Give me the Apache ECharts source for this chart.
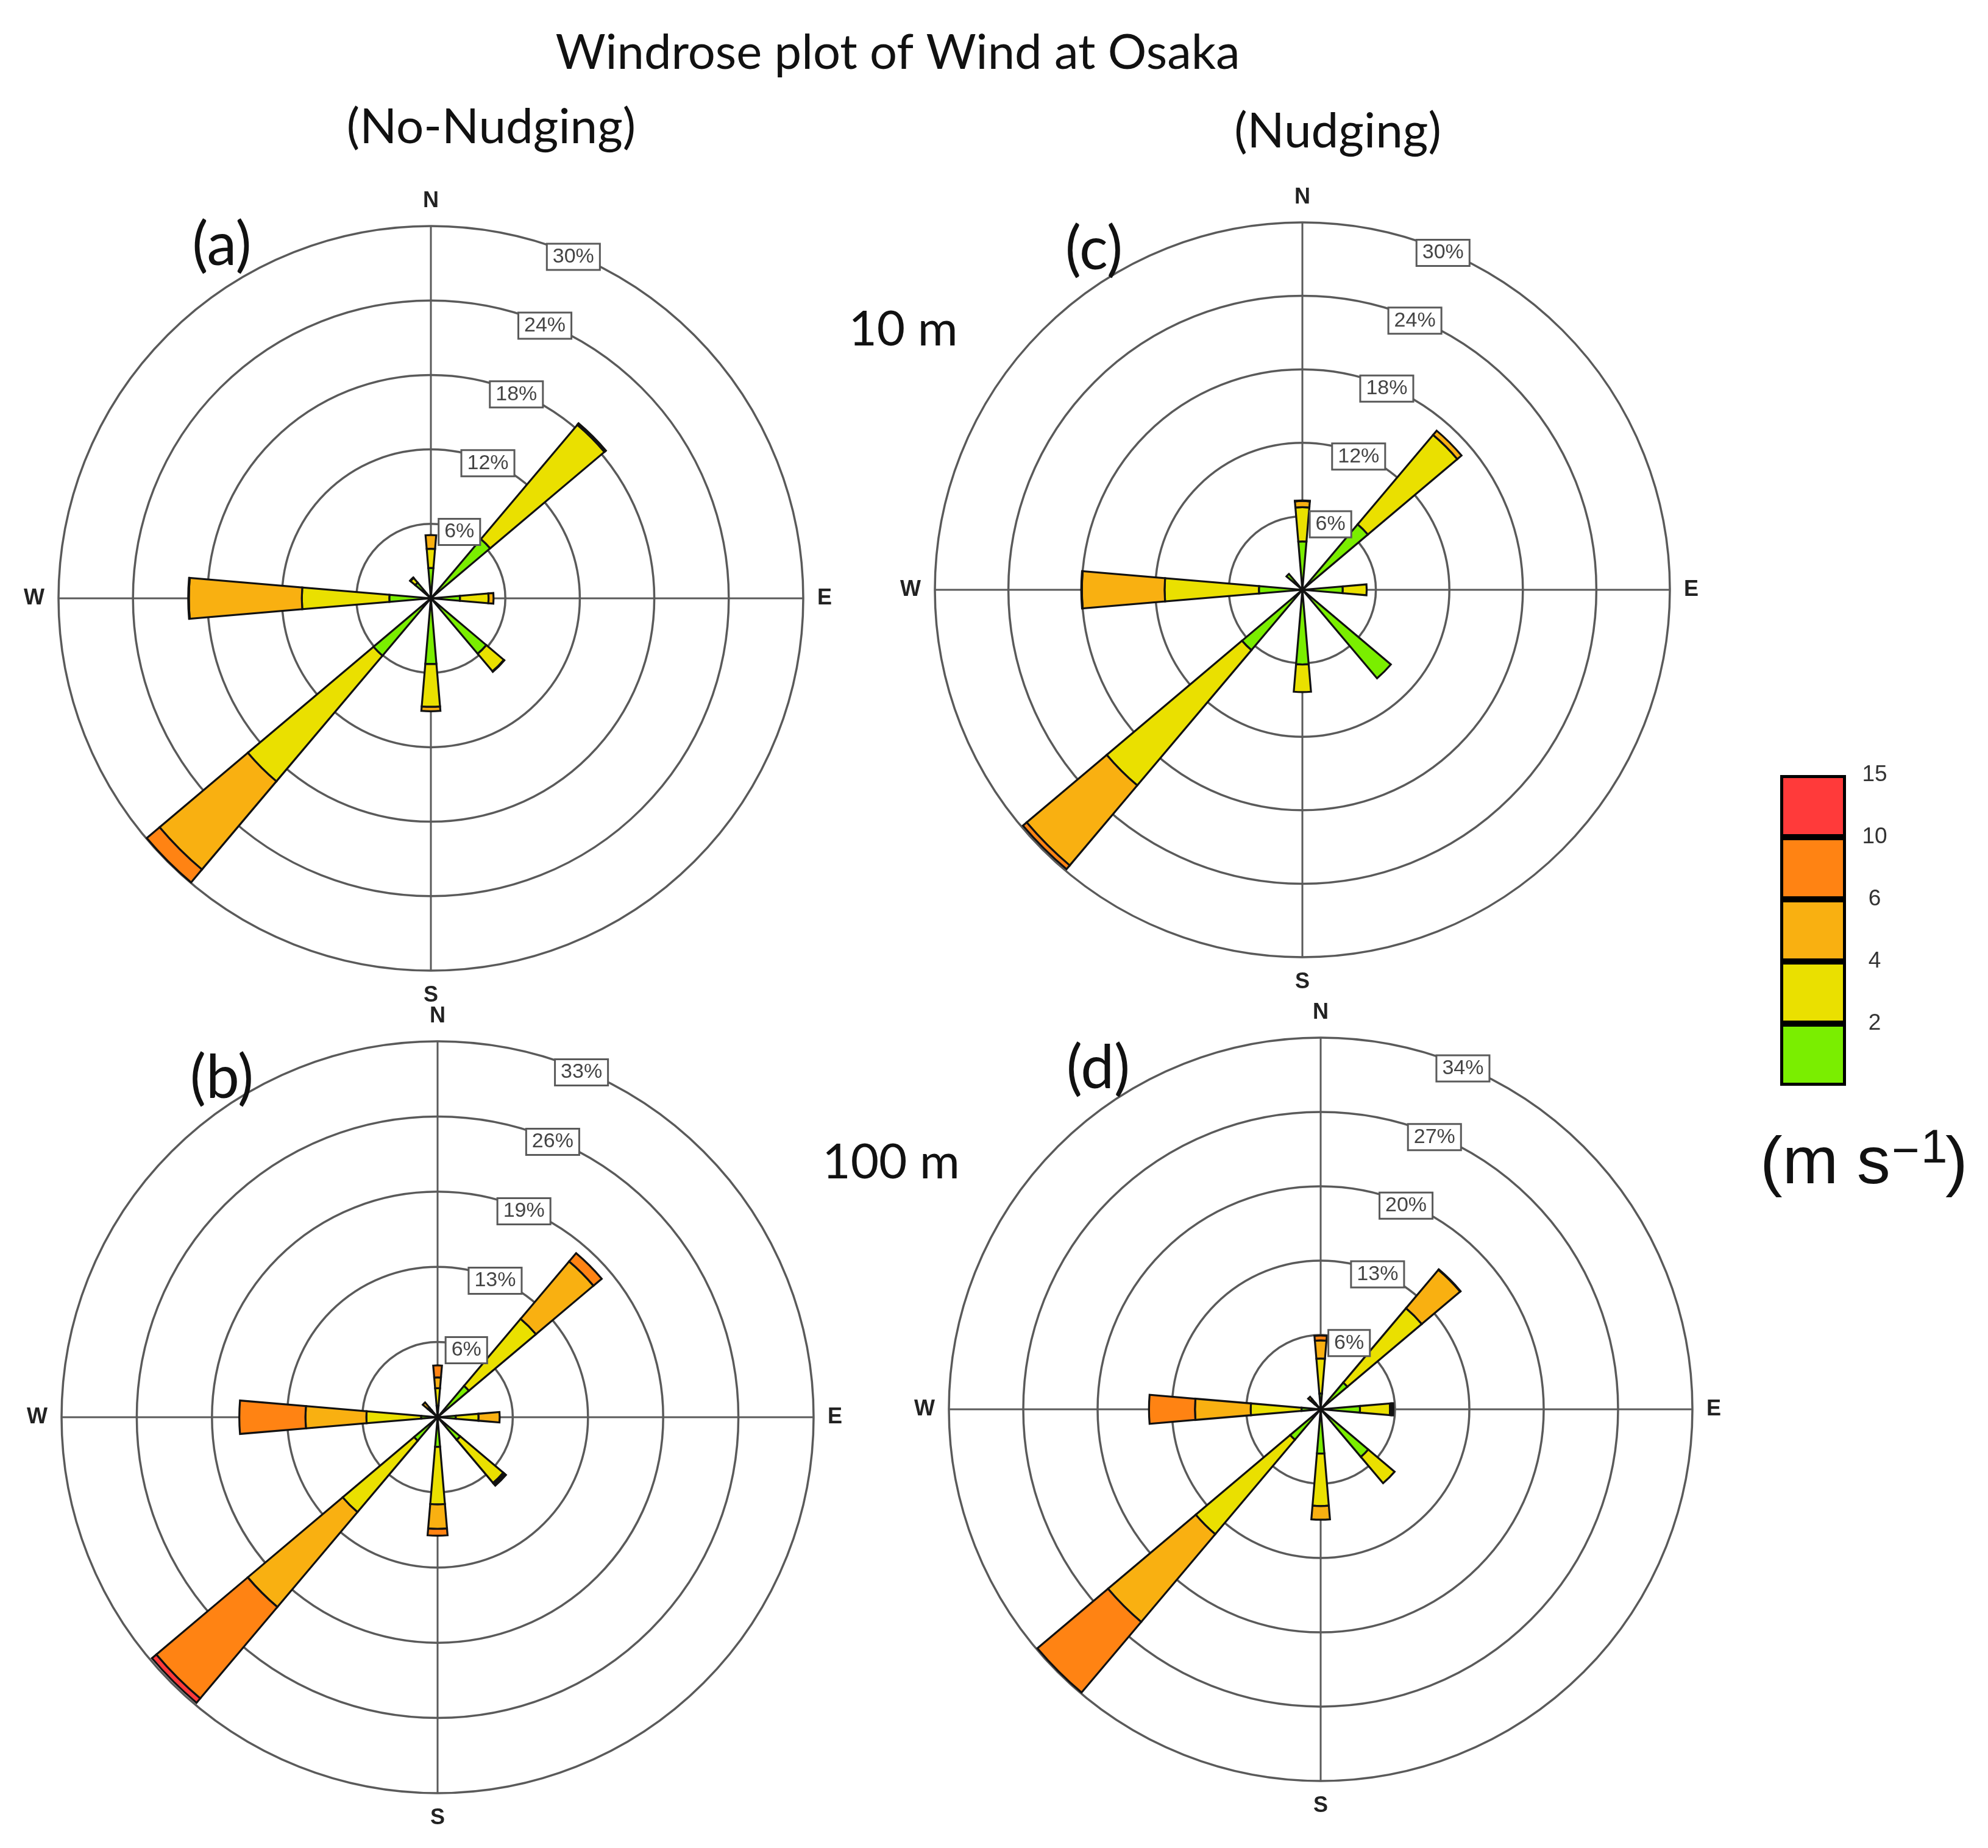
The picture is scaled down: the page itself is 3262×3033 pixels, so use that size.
<!DOCTYPE html>
<html>
<head>
<meta charset="utf-8">
<style>
html, body { margin: 0; padding: 0; background: #fff; }
#main { width: 3262px; height: 3033px; }
</style>
<script src="https://cdn.jsdelivr.net/npm/echarts@6/dist/echarts.min.js"></script>
</head>
<body>
<div id="main"></div>
<script>
// wind directions, clockwise from north
var directions = ['N', 'NE', 'E', 'SE', 'S', 'SW', 'W', 'NW'];
var compassLabels = ['N', 'E', 'S', 'W'];

// speed bins
var binNames = ['<2', '2-4', '4-6', '6-10', '10-15'];
var binColors = ['#7AEE00', '#EAE000', '#F9B011', '#FF8313', '#FF3A3A'];
var barTicks = ['', '2', '4', '6', '10', '15'];
var barCells = [1, 1, 1, 1, 1];

// (a) No-Nudging 10 m, frequency in % per bin
var aGreen  = [2.45, 6.25, 2.35, 5.85, 5.3, 6.05, 3.35, 1.65];
var aYellow = [1.55, 12.05, 2.3, 1.85, 3.45, 13.25, 7.05, 0.5];
var aAmber  = [1.1, 0.1, 0.4, 0.05, 0.35, 9.3, 9.1, 0.05];
var aOrange = [null, 0.05, null, null, null, 1.35, 0.05, null];
var aRed    = [null, null, null, null, null, null, null, null];
var aRings  = ['6%', '12%', '18%', '24%', '30%'];

// (b) No-Nudging 100 m
var bGreen  = [1.0, 3.6, 1.6, 2.6, 2.6, 2.7, 1.45, 0.8];
var bYellow = [1.55, 7.7, 2.0, 4.95, 5.05, 8.2, 4.8, 0.3];
var bAmber  = [0.95, 6.6, 1.85, 0.15, 2.15, 10.9, 5.35, 0.6];
var bOrange = [1.05, 0.95, null, 0.15, 0.6, 10.5, 5.8, null];
var bRed    = [null, null, null, null, null, 0.5, null, null];
var bRings  = ['6%', '13%', '19%', '26%', '33%'];

// (c) Nudging 10 m
var cGreen  = [3.95, 7.0, 3.3, 9.45, 6.1, 6.45, 3.55, 1.7];
var cYellow = [2.8, 9.55, 1.95, null, 2.25, 14.45, 7.7, null];
var cAmber  = [0.5, 0.45, null, null, null, 8.55, 6.75, null];
var cOrange = [0.05, null, null, null, null, 0.4, 0.05, null];
var cRed    = [null, null, null, null, null, null, null, null];
var cRings  = ['6%', '12%', '18%', '24%', '30%'];

// (d) Nudging 100 m
var dGreen  = [1.45, 3.2, 3.6, 5.7, 4.05, 3.65, 1.75, 0.7];
var dYellow = [3.2, 8.9, 2.75, 3.15, 4.8, 11.3, 4.65, 0.5];
var dAmber  = [1.65, 4.6, 0.15, null, 1.25, 10.5, 5.1, 0.3];
var dOrange = [0.45, 0.05, 0.15, null, null, 8.45, 4.2, null];
var dRed    = [null, null, null, null, null, null, null, null];
var dRings  = ['6%', '13%', '20%', '27%', '34%'];

var panels = [
   { center: [707, 982],  r: 611, max: 30, rings: aRings, bins: [aGreen, aYellow, aAmber, aOrange, aRed] },
   { center: [718, 2326], r: 617, max: 33, rings: bRings, bins: [bGreen, bYellow, bAmber, bOrange, bRed] },
   { center: [2137, 968], r: 603, max: 30, rings: cRings, bins: [cGreen, cYellow, cAmber, cOrange, cRed] },
   { center: [2167, 2313], r: 610, max: 34, rings: dRings, bins: [dGreen, dYellow, dAmber, dOrange, dRed] }
];

var sansFont = 'Liberation Sans';
var titleFont = 'Lato';
var lineGrey = '#5a5a5a';

var polar = [], angleAxis = [], radiusAxis = [], series = [];

panels.forEach(function (p, i) {
   var gridPolar = i * 3, barPolar = i * 3 + 1, labelPolar = i * 3 + 2;
   var step = p.max / 5;

   // polar for the rings, spokes and compass letters
   polar.push({ center: p.center, radius: p.r });
   angleAxis.push({
      polarIndex: gridPolar,
      type: 'value',
      min: 0,
      max: 360,
      interval: 90,
      startAngle: 90,
      axisLine: { show: false },
      axisTick: { show: false },
      axisLabel: {
         show: true,
         showMaxLabel: false,
         margin: 23,
         color: '#222',
         fontFamily: sansFont,
         fontWeight: 'bold',
         fontSize: 36,
         formatter: function (val) { return compassLabels[val / 90]; }
      },
      splitLine: { show: true, lineStyle: { color: lineGrey, width: 3 } }
   });
   radiusAxis.push({
      polarIndex: gridPolar,
      type: 'value',
      min: 0,
      max: p.max,
      interval: step,
      axisLine: { show: false },
      axisTick: { show: false },
      axisLabel: { show: false },
      splitLine: { show: true, lineStyle: { color: lineGrey, width: 3.5 } }
   });

   // polar for the bars
   polar.push({ center: p.center, radius: p.r });
   angleAxis.push({
      polarIndex: barPolar,
      type: 'category',
      data: directions,
      boundaryGap: false,
      startAngle: 90,
      axisLine: { show: false },
      axisTick: { show: false },
      axisLabel: { show: false },
      splitLine: { show: false }
   });
   radiusAxis.push({
      polarIndex: barPolar,
      type: 'value',
      min: 0,
      max: p.max,
      axisLine: { show: false },
      axisTick: { show: false },
      axisLabel: { show: false },
      splitLine: { show: false }
   });

   // third polar only to carry the boxed % labels along the 67.5 degree line
   polar.push({ center: [p.center[0], p.center[1] + 4], radius: p.r });
   angleAxis.push({
      polarIndex: labelPolar,
      type: 'value',
      min: 0,
      max: 360,
      startAngle: 67.5,
      axisLine: { show: false },
      axisTick: { show: false },
      axisLabel: { show: false },
      splitLine: { show: false }
   });
   radiusAxis.push({
      polarIndex: labelPolar,
      type: 'value',
      min: 0,
      max: p.max,
      interval: step,
      z: 20,
      axisLine: { show: false },
      axisTick: { show: false },
      splitLine: { show: false },
      axisLabel: {
         show: true,
         showMinLabel: false,
         margin: 0,
         rotate: 0,
         align: 'center',
         verticalAlign: 'middle',
         color: '#444',
         fontFamily: sansFont,
         fontSize: 34,
         backgroundColor: '#fff',
         borderColor: lineGrey,
         borderWidth: 3,
         padding: [3, 8],
         formatter: function (val, idx) { return p.rings[idx - 1]; }
      }
   });

   p.bins.forEach(function (values, b) {
      series.push({
         name: binNames[b],
         type: 'bar',
         coordinateSystem: 'polar',
         polarIndex: barPolar,
         stack: 'panel' + i,
         barWidth: '21.5%',
         silent: true,
         itemStyle: { color: binColors[b], borderColor: '#111', borderWidth: 3.2 },
         data: values
      });
   });
});

// colour bar
barCells.forEach(function (v, b) {
   series.push({
      name: binNames[b],
      type: 'bar',
      stack: 'colorbar',
      barWidth: '100%',
      silent: true,
      itemStyle: { color: binColors[b], borderColor: '#000', borderWidth: 5 },
      data: [v]
   });
});

function label(text, x, y, size, family, align) {
   return {
      text: text,
      left: x,
      top: y,
      padding: 0,
      textAlign: align || 'center',
      textVerticalAlign: 'middle',
      textStyle: { color: '#111', fontFamily: family, fontWeight: 'normal', fontSize: size }
   };
}

var myChart = echarts.init(document.getElementById('main'));
myChart.setOption({
   animation: false,
   backgroundColor: '#fff',
   title: [
      label('Windrose plot of Wind at Osaka', 1473, 87, 79.5, titleFont),
      label('(No-Nudging)', 806, 209, 80, titleFont),
      label('(Nudging)', 2195, 216, 80, titleFont),
      label('(a)', 364, 403, 98, titleFont),
      label('(b)', 364, 1770, 98, titleFont),
      label('(c)', 1795, 410, 98, titleFont),
      label('(d)', 1802, 1754, 98, titleFont),
      label('10 m', 1482, 541, 80, titleFont),
      label('100 m', 1462, 1908, 80, titleFont),
      label('(m s', 2888, 1912, 110, sansFont, 'left'),
      label('\u2212', 3104, 1892, 78, sansFont, 'left'),
      label('1', 3152, 1886, 78, sansFont, 'left'),
      label(')', 3192, 1912, 110, sansFont, 'left')
   ],
   polar: polar,
   angleAxis: angleAxis,
   radiusAxis: radiusAxis,
   grid: { left: 2921, top: 1272, width: 108, height: 510, containLabel: false },
   xAxis: { type: 'category', data: ['speed'], show: false },
   yAxis: {
      type: 'value',
      min: 0,
      max: 5,
      interval: 1,
      position: 'right',
      axisLine: { show: false },
      axisTick: { show: false },
      splitLine: { show: false },
      axisLabel: {
         margin: 47,
         align: 'center',
         color: '#333',
         fontFamily: sansFont,
         fontSize: 37,
         formatter: function (val, idx) { return barTicks[idx]; }
      }
   },
   series: series
});
</script>
</body>
</html>
